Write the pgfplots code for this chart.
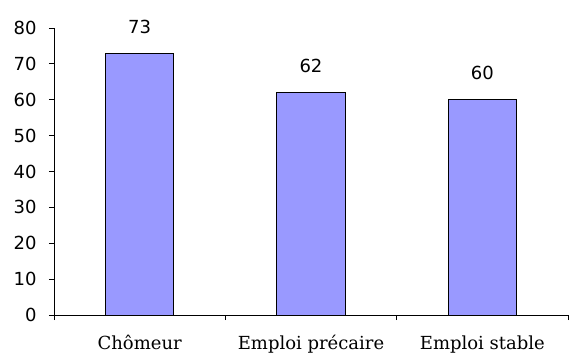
\documentclass[border=0pt]{standalone}
\usepackage{fontspec}
\setmainfont{DejaVu Serif}
\newfontfamily\numfont{DejaVu Sans}
\usepackage{pgfplots}
\pgfplotsset{compat=1.18}
\definecolor{barfill}{HTML}{9999FF}

\begin{document}
\begin{tikzpicture}
\begin{axis}[
  scale only axis, width=514bp, height=287bp,
  xmin=-0.5, xmax=2.5, ymin=0, ymax=80,
  axis x line=bottom, axis y line=left,
  axis line style={-, line width=0.9bp, black},
  ytick={0,10,...,80},
  xtick={0,1,2},
  xticklabels={Chômeur, Emploi précaire, Emploi stable},
  major x tick style={draw=none},
  minor xtick={-0.5,0.5,1.5,2.5},
  tick align=outside,
  major tick length=5bp, minor tick length=5bp,
  every tick/.style={black, line width=0.9bp},
  /pgf/number format/assume math mode=true,
  yticklabel style={font=\numfont\fontsize{18bp}{21bp}\selectfont, xshift=-9bp},
  xticklabel style={font=\fontsize{18bp}{22bp}\selectfont, yshift=-12bp},
  ybar, bar width=0.4,
  nodes near coords,
  nodes near coords style={font=\numfont\fontsize{18bp}{21bp}\selectfont, anchor=south, yshift=16bp},
]
\addplot[fill=barfill, draw=black, line width=0.9bp] coordinates {(0,73) (1,62) (2,60)};
\end{axis}
\pgfresetboundingbox
\path ([shift={(-54bp,-41bp)}]current axis.south west) rectangle ([shift={(1bp,28bp)}]current axis.north east);
\end{tikzpicture}
\end{document}
